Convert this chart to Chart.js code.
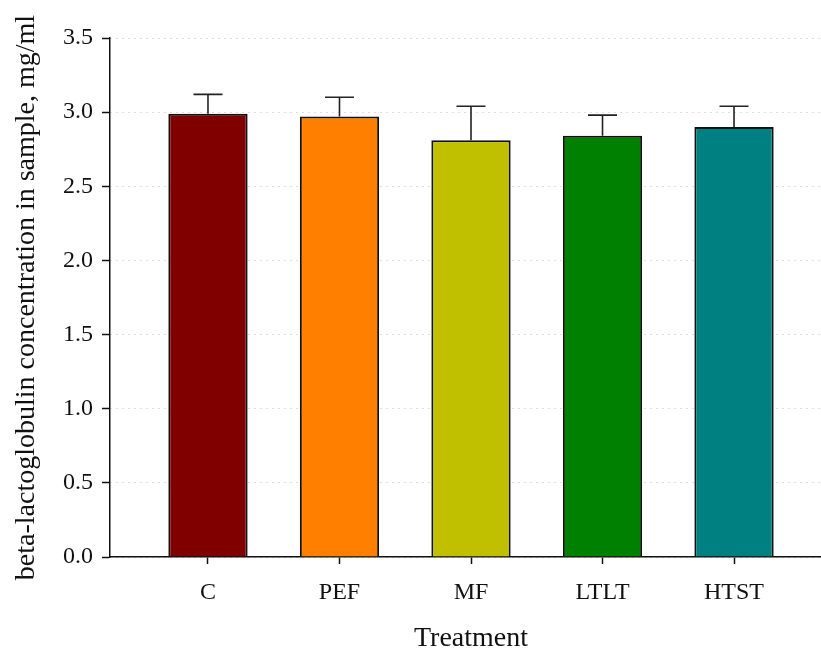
<!DOCTYPE html>
<html>
<head>
<meta charset="utf-8">
<script src="https://cdn.jsdelivr.net/npm/chart.js@4.4.0/dist/chart.umd.min.js"></script>
<style>
    body { margin: 0; background: #fff; }
    #wrap { width: 821px; height: 650px; overflow: hidden; position: relative; }
    #inner { width: 834px; height: 650px; position: relative; }
</style>
</head>
<body>
<div id="wrap"><div id="inner"><canvas id="newChart"></canvas></div></div>
<script>
const categories = ["C", "PEF", "MF", "LTLT", "HTST"];
const means = [2.99, 2.97, 2.81, 2.84, 2.90];
const errors = [0.13, 0.13, 0.23, 0.14, 0.14];
const barColors = ["#800000", "#ff8000", "#c0c000", "#008000", "#008080"];
const yTicks = [0, 0.5, 1.0, 1.5, 2.0, 2.5, 3.0, 3.5];

const serif = "'Liberation Serif', 'Times New Roman', serif";

// upper error bars only
const errorBars = {
    id: "errorBars",
    afterDatasetsDraw(chart) {
        const { ctx, scales } = chart;
        const meta = chart.getDatasetMeta(0);
        ctx.save();
        ctx.strokeStyle = "#222";
        ctx.lineWidth = 1.6;
        meta.data.forEach((bar, i) => {
            const yTop = scales.y.getPixelForValue(means[i] + errors[i]);
            const yBar = scales.y.getPixelForValue(means[i]);
            ctx.beginPath();
            ctx.moveTo(bar.x, yBar);
            ctx.lineTo(bar.x, yTop);
            ctx.moveTo(bar.x - 14.5, yTop);
            ctx.lineTo(bar.x + 14.5, yTop);
            ctx.stroke();
        });
        ctx.restore();
    },
};

let ctx = document.getElementById("newChart");
const displayChart = new Chart(ctx, {
    type: "bar",
    data: {
        datasets: [
            {
                data: categories.map((c, i) => ({ x: i, y: means[i] })),
                backgroundColor: barColors,
                borderColor: "#111",
                borderWidth: 2,
                borderSkipped: "bottom",
                categoryPercentage: 1,
                barPercentage: 0.603,
            },
        ],
    },
    options: {
        responsive: true,
        maintainAspectRatio: false,
        animation: false,
        layout: { padding: { left: 10, right: 2, top: 38, bottom: 0 } },
        scales: {
            x: {
                type: "linear",
                offset: false,
                min: -0.745,
                max: 4.745,
                afterBuildTicks: (scale) => {
                    scale.ticks = categories.map((c, i) => ({ value: i }));
                },
                afterFit: (scale) => {
                    scale.height = 93;
                },
                ticks: {
                    autoSkip: false,
                    maxRotation: 0,
                    padding: 14,
                    color: "#111",
                    font: { family: serif, size: 24 },
                    callback: (v) => categories[v],
                },
                grid: {
                    display: true,
                    offset: false,
                    drawOnChartArea: false,
                    drawTicks: true,
                    tickLength: 7,
                    tickColor: "#111",
                    tickWidth: 1.5,
                },
                border: { display: true, color: "#111", width: 1.5 },
                title: {
                    display: true,
                    text: "Treatment",
                    color: "#111",
                    font: { family: serif, size: 28 },
                    padding: { top: 0, bottom: -5 },
                },
            },
            y: {
                min: 0,
                max: 3.5,
                afterBuildTicks: (scale) => {
                    scale.ticks = yTicks.map((v) => ({ value: v }));
                },
                afterFit: (scale) => {
                    scale.width = 100;
                },
                ticks: {
                    padding: 9,
                    color: "#111",
                    font: { family: serif, size: 24 },
                    callback: (v) => v.toFixed(1),
                },
                grid: {
                    color: "#bdbdbd",
                    lineWidth: 1,
                    tickLength: 8,
                    tickColor: "#111",
                    tickWidth: 1.5,
                },
                border: { display: true, color: "#111", width: 1.5, dash: [1, 5] },
                title: {
                    display: true,
                    text: "beta-lactoglobulin concentration in sample, mg/ml",
                    color: "#111",
                    font: { family: serif, size: 28 },
                    padding: { top: 0, bottom: 0 },
                },
            },
        },
        plugins: {
            legend: { display: false },
            tooltip: { enabled: false },
        },
    },
    plugins: [errorBars],
});
</script>
</body>
</html>
